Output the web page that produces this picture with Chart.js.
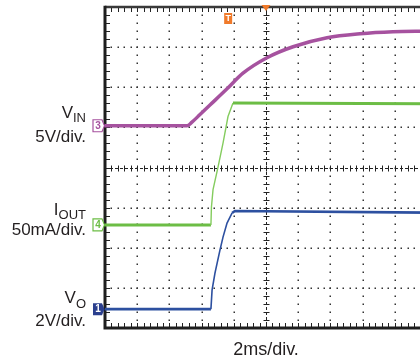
<!DOCTYPE html>
<html><head><meta charset="utf-8">
<script src="https://cdn.jsdelivr.net/npm/chart.js@4/dist/chart.umd.min.js"></script>
<style>
html,body{margin:0;padding:0;background:#fff;overflow:hidden;width:420px;height:360px}
#wrap{position:absolute;left:0;top:0;width:440px;height:360px}
</style></head>
<body><div id="wrap"><canvas id="c" width="440" height="360"></canvas></div>
<script>
// ---- data (time in ms, values in physical units) ----
const vinTime  = [0, 5.09, 5.40, 5.90, 6.52, 7.58, 8.57, 10.06, 11.68, 13.79, 15.84, 17.89, 20];
const vinVolts = [0, 0,    0.45, 1.40, 2.58, 4.60, 6.55, 8.48,  9.85,  10.97, 11.47, 11.72, 11.78];

const ioutTime = [0, 6.58, 6.61, 6.71, 7.02, 7.33, 7.64, 7.95, 20];
const ioutMA   = [0, 0,    22,   44,   72,   102,  135,  152,  151];

const voTime   = [0, 6.58, 6.65, 6.83, 7.14, 7.33, 7.58, 7.89, 8.07, 20];
const voVolts  = [0, 0,    0.95, 1.80, 2.94, 3.59, 4.29, 4.79, 4.89, 4.81];

const channelNames = ['V', 'I', 'V'];
const channelSubs  = ['IN', 'OUT', 'O'];
const channelScaleText = ['5V/div.', '50mA/div.', '2V/div.'];
const channelNumbers = ['3', '4', '1'];
const timeBaseText = '2ms/div.';

// channel settings: units per division and ground offset (divisions from bottom)
const perDiv  = [5, 50, 2];
const offsets = [5.04, 2.57, 0.47];
const colors  = ['#a6529f', '#6cbd45', '#2d50a0'];

function toDiv(times, vals, ch) {
  return times.map((t, i) => ({x: t, y: offsets[ch] + vals[i] / perDiv[ch]}));
}
function steep(ctx) {
  const dx = Math.abs(ctx.p1.x - ctx.p0.x), dy = Math.abs(ctx.p1.y - ctx.p0.y);
  return dy > 2 * dx;
}

const graticule = {
  id: 'graticule',
  beforeDatasetsDraw(chart) {
    const {ctx, chartArea: a, scales: {x, y}} = chart;
    ctx.save();
    ctx.fillStyle = '#333';
    // dotted grid lines
    for (let k = 1; k < 8; k++) {
      if (k === 4) continue;
      const py = Math.round(y.getPixelForValue(k));
      for (let j = 1; j < 50; j++) {
        const px = x.getPixelForValue(j * 0.4);
        ctx.fillRect(Math.round(px) - 0.5, py - 0.5, 1.5, 1.5);
      }
    }
    for (let k = 1; k < 10; k++) {
      if (k === 5) continue;
      const px = Math.round(x.getPixelForValue(k * 2));
      for (let j = 1; j < 40; j++) {
        const py = y.getPixelForValue(j * 0.2);
        ctx.fillRect(px - 0.5, Math.round(py) - 0.5, 1.5, 1.5);
      }
    }
    // centre cross
    const cy = Math.round(y.getPixelForValue(4)) + 0.5;
    const cx = Math.round(x.getPixelForValue(10)) + 0.5;
    ctx.strokeStyle = '#222';
    ctx.lineWidth = 1;
    ctx.setLineDash([3, 2]);
    ctx.beginPath();
    ctx.moveTo(a.left, cy); ctx.lineTo(a.right, cy);
    ctx.moveTo(cx, a.top); ctx.lineTo(cx, a.bottom);
    ctx.stroke();
    ctx.setLineDash([]);
    ctx.beginPath();
    for (let j = 1; j < 50; j++) {
      const px = Math.round(x.getPixelForValue(j * 0.4)) + 0.5;
      ctx.moveTo(px, cy - 3); ctx.lineTo(px, cy + 3);
      ctx.moveTo(px, a.top); ctx.lineTo(px, a.top + 5);
      ctx.moveTo(px, a.bottom); ctx.lineTo(px, a.bottom - 5);
    }
    for (let j = 1; j < 40; j++) {
      const py = Math.round(y.getPixelForValue(j * 0.2)) + 0.5;
      ctx.moveTo(cx - 3, py); ctx.lineTo(cx + 3, py);
      ctx.moveTo(a.left, py); ctx.lineTo(a.left + 5, py);
    }
    ctx.stroke();
    // borders
    ctx.strokeStyle = '#3a3a3a';
    ctx.lineWidth = 2.5;
    ctx.beginPath();
    ctx.moveTo(a.left, a.top); ctx.lineTo(a.right + 5, a.top);
    ctx.stroke();
    ctx.strokeStyle = '#1e1e1e';
    ctx.lineWidth = 3;
    ctx.beginPath();
    ctx.moveTo(a.left, a.top - 1.2); ctx.lineTo(a.left, a.bottom);
    ctx.lineTo(a.right + 5, a.bottom);
    ctx.stroke();
    ctx.restore();
  },
  afterDatasetsDraw(chart) {
    const {ctx, chartArea: a, scales: {x, y}} = chart;
    ctx.save();
    // channel markers
    for (let ch = 0; ch < 3; ch++) {
      const py = y.getPixelForValue(offsets[ch]);
      const l = a.left - 12, r = a.left - 3, t = py - 6, b = py + 6;
      ctx.beginPath();
      ctx.moveTo(l, t); ctx.lineTo(r, t); ctx.lineTo(r + 2.5, py); ctx.lineTo(r, b); ctx.lineTo(l, b); ctx.closePath();
      if (ch === 2) {
        ctx.fillStyle = '#2b3f8e'; ctx.fill();
        ctx.fillStyle = '#fff';
      } else {
        ctx.fillStyle = '#fff'; ctx.fill();
        ctx.strokeStyle = colors[ch]; ctx.lineWidth = 1.2; ctx.stroke();
        ctx.fillStyle = colors[ch];
      }
      ctx.font = 'bold 10px "Liberation Sans", Arial, sans-serif';
      ctx.textAlign = 'center'; ctx.textBaseline = 'middle';
      ctx.fillText(channelNumbers[ch], (l + r) / 2 + 0.5, py + 0.5);
    }
    // trigger marker
    const tx = x.getPixelForValue(10);
    ctx.fillStyle = '#f07a2a';
    ctx.beginPath();
    ctx.moveTo(tx - 4.5, a.top - 2); ctx.lineTo(tx + 4.5, a.top - 2); ctx.lineTo(tx, a.top + 4); ctx.closePath();
    ctx.fill();
    const tlx = x.getPixelForValue(7.65);
    ctx.fillRect(tlx - 4, a.top + 6, 8, 11);
    ctx.fillStyle = '#fff';
    ctx.font = 'bold 9px "Liberation Sans", Arial, sans-serif';
    ctx.textAlign = 'center'; ctx.textBaseline = 'middle';
    ctx.fillText('T', tlx, a.top + 11.5);
    ctx.restore();
    // labels
    ctx.save();
    ctx.fillStyle = '#231f20';
    ctx.textBaseline = 'alphabetic';
    ctx.textAlign = 'right';
    const lx = 86;
    const nameBase = [118, 215, 303];
    const subBase  = [122, 219, 308];
    const scaleBase = [142, 235, 326];
    for (let ch = 0; ch < 3; ch++) {
      ctx.font = '13px "Liberation Sans", Arial, sans-serif';
      const sw = ctx.measureText(channelSubs[ch]).width;
      ctx.fillText(channelSubs[ch], lx, subBase[ch]);
      ctx.font = '17px "Liberation Sans", Arial, sans-serif';
      ctx.fillText(channelNames[ch], lx - sw, nameBase[ch]);
      ctx.fillText(channelScaleText[ch], lx, scaleBase[ch]);
    }
    ctx.textAlign = 'center';
    ctx.font = '18px "Liberation Sans", Arial, sans-serif';
    ctx.fillText(timeBaseText, x.getPixelForValue(10), 355);
    ctx.restore();
  }
};

new Chart(document.getElementById('c'), {
  type: 'line',
  data: {
    datasets: [
      {
        label: 'VIN', data: toDiv(vinTime, vinVolts, 0),
        borderColor: colors[0], borderWidth: 3.5, pointRadius: 0,
        cubicInterpolationMode: 'monotone', borderJoinStyle: 'round'
      },
      {
        label: 'IOUT', data: toDiv(ioutTime, ioutMA, 1),
        borderColor: colors[1], borderWidth: 3, pointRadius: 0, tension: 0,
        segment: {
          borderWidth: c => steep(c) ? 1.4 : 3,
          borderColor: c => steep(c) ? '#84cc5e' : colors[1]
        }
      },
      {
        label: 'VO', data: toDiv(voTime, voVolts, 2),
        borderColor: colors[2], borderWidth: 2.6, pointRadius: 0, tension: 0,
        segment: {
          borderWidth: c => steep(c) ? 1.6 : 2.6
        }
      }
    ]
  },
  options: {
    responsive: false,
    devicePixelRatio: 1,
    animation: false,
    layout: {padding: {left: 105, right: 13, top: 7, bottom: 32}},
    plugins: {legend: {display: false}, tooltip: {enabled: false}},
    scales: {
      x: {type: 'linear', min: 0, max: 20, display: false},
      y: {type: 'linear', min: 0, max: 8, display: false}
    }
  },
  plugins: [graticule]
});
</script>
</body></html>
